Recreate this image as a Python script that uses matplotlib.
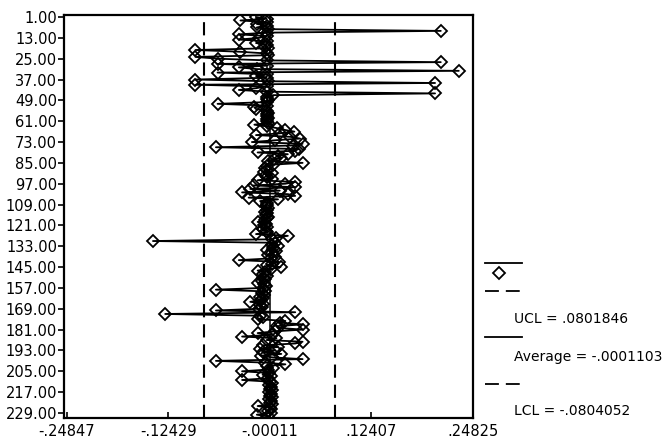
import matplotlib
matplotlib.use("Agg")
import matplotlib.pyplot as plt
from matplotlib.lines import Line2D
import numpy as np

plt.rcParams["font.family"] = ["DejaVu Sans"]
plt.rcParams["lines.scale_dashes"] = False

# Deviations per sequence number (observations 1..231)
dev_001_060 = [
    -0.017, -0.004, -0.036, -0.003, -0.016, -0.004, -0.016, -0.002, 0.209, -0.003,
    -0.038, -0.004, -0.013, -0.038, -0.003, -0.017, -0.004, -0.006, -0.002, -0.091,
    -0.037, -0.004, -0.002, -0.091, -0.064, -0.003, 0.209, -0.064, -0.004, -0.038,
    -0.016, 0.231, -0.064, -0.003, -0.017, -0.004, -0.091, -0.002, 0.202, -0.091,
    -0.004, -0.017, -0.038, -0.003, 0.202, 0.004, -0.003, -0.004, -0.002, -0.004,
    -0.064, -0.003, -0.019, -0.017, -0.003, -0.002, -0.004, -0.003, -0.002, -0.004,
]
dev_061_120 = [
    -0.003, -0.002, -0.019, -0.004, 0.009, 0.018, 0.030, 0.012, -0.017, 0.025,
    0.037, 0.006, -0.022, 0.040, 0.028, -0.066, 0.035, 0.031, -0.015, 0.022,
    0.010, 0.014, 0.005, -0.002, 0.040, 0.004, -0.004, -0.006, -0.003, -0.007,
    0.002, -0.005, -0.003, 0.002, -0.015, 0.031, 0.019, -0.020, 0.031, -0.024,
    0.012, -0.034, 0.022, 0.031, -0.026, 0.010, -0.012, -0.004, -0.003, -0.005,
    -0.002, -0.004, -0.006, -0.003, -0.005, -0.002, -0.004, -0.006, -0.015, -0.005,
]
dev_121_180 = [
    -0.007, -0.004, -0.008, -0.005, -0.003, -0.017, 0.022, 0.008, 0.003, -0.143,
    0.006, 0.002, 0.010, 0.004, -0.004, 0.008, 0.003, -0.002, 0.006, 0.001,
    -0.038, 0.011, 0.002, -0.004, 0.013, 0.001, -0.015, -0.006, -0.008, -0.004,
    -0.009, -0.006, -0.010, -0.014, -0.007, -0.005, -0.008, -0.066, -0.006, -0.010,
    -0.007, -0.012, -0.009, -0.011, -0.024, -0.008, -0.012, -0.010, -0.013, -0.066,
    0.031, -0.128, -0.012, -0.009, -0.014, 0.019, 0.012, 0.040, 0.009, 0.010,
]
dev_181_231 = [
    0.040, 0.006, -0.015, 0.002, -0.034, 0.008, -0.004, 0.040, 0.031, -0.008,
    0.010, -0.012, 0.006, -0.009, 0.014, -0.011, 0.003, 0.040, -0.066, -0.006,
    0.019, -0.003, 0.004, -0.002, -0.034, -0.001, -0.009, 0.001, -0.002, -0.034,
    0.000, 0.002, -0.001, 0.001, 0.000, 0.002, -0.001, 0.001, 0.000, 0.002,
    -0.001, 0.001, 0.000, 0.002, -0.015, 0.000, 0.001, -0.002, 0.001, -0.016,
    -0.002,
]

ucl = 0.0801846
average = -0.0001103
lcl = -0.0804052

x_ticks = [-0.24847, -0.12429, -0.00011, 0.12407, 0.24825]
x_tick_labels = ["-.24847", "-.12429", "-.00011", ".12407", ".24825"]
y_ticks = [1, 13, 25, 37, 49, 61, 73, 85, 97, 109, 121, 133, 145, 157, 169,
           181, 193, 205, 217, 229]

values = np.array(dev_001_060 + dev_061_120 + dev_121_180 + dev_181_231)
seq = np.arange(1, len(values) + 1)

W, H = 669, 443
fig = plt.figure(figsize=(W / 100, H / 100), dpi=100)
ax = fig.add_axes([64 / W, 1 - 418 / H, (473 - 64) / W, (418 - 15) / H])

marker_style = dict(marker="D", markersize=5.8, markerfacecolor="none",
                    markeredgecolor="black", markeredgewidth=1.3)

ax.plot(values, seq, color="black", lw=1.3, zorder=3, **marker_style)
ax.axvline(average, color="black", lw=1.1, zorder=2)
for lim in (ucl, lcl):
    ax.axvline(lim, color="black", lw=1.5, dashes=(9.5, 5), zorder=2)

ax.set_xlim(-0.2518, 0.2484)
ax.set_ylim(231.9, -0.15)
ax.set_xticks(x_ticks)
ax.set_xticklabels(x_tick_labels)
ax.set_yticks(y_ticks)
ax.set_yticklabels([f"{v:.2f}" for v in y_ticks])
ax.tick_params(axis="y", direction="out", length=4, width=1.2, labelsize=10.5, pad=1)
ax.tick_params(axis="x", direction="in", length=4, width=1.2, labelsize=10.5, pad=4)
for s in ax.spines.values():
    s.set_linewidth(1.6)

# Legend drawn at figure level to the right of the plot
def fx(px):
    return px / W

def fy(py):
    return 1 - py / H

fig.add_artist(Line2D([fx(485), fx(522)], [fy(263), fy(263)], color="black", lw=1.3))
fig.add_artist(Line2D([fx(499)], [fy(273)], linestyle="none", **marker_style))
fig.add_artist(Line2D([fx(485), fx(522)], [fy(291), fy(291)], color="black", lw=1.3,
                      dashes=(10, 5)))
fig.add_artist(Line2D([fx(485), fx(522)], [fy(337), fy(337)], color="black", lw=1.3))
fig.add_artist(Line2D([fx(485), fx(522)], [fy(384), fy(384)], color="black", lw=1.3,
                      dashes=(10, 5)))
fig.text(fx(514), fy(319), "UCL = .0801846", fontsize=10, va="center", ha="left")
fig.text(fx(514), fy(357), "Average = -.0001103", fontsize=10, va="center", ha="left")
fig.text(fx(514), fy(411), "LCL = -.0804052", fontsize=10, va="center", ha="left")

fig.savefig("out.png", dpi=100)
